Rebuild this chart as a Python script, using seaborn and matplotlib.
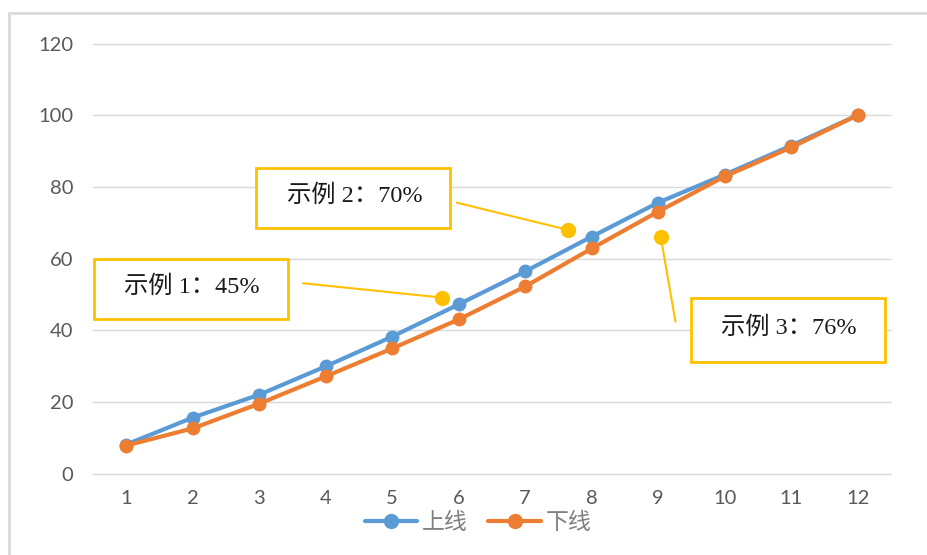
import numpy as np
import pandas as pd
import seaborn as sns
import matplotlib.pyplot as plt
from matplotlib.patches import Rectangle

# Data
x_values = [1, 2, 3, 4, 5, 6, 7, 8, 9, 10, 11, 12]
upper_line = [8.1, 15.6, 22.0, 29.9, 38.2, 47.2, 56.4, 66.1, 75.6, 83.4, 91.5, 100.0]
lower_line = [7.8, 12.6, 19.5, 27.1, 34.9, 43.0, 52.2, 62.8, 73.1, 82.9, 91.0, 100.0]
series_names = ['上线', '下线']

# Example call-outs: label text and the point each one marks
example_labels = ['示例 1：45%', '示例 2：70%', '示例 3：76%']
example_x = [5.75, 7.64, 9.04]
example_y = [49.1, 68.0, 65.9]

df = pd.DataFrame({
    'x': x_values * 2,
    'y': upper_line + lower_line,
    'series': [series_names[0]] * len(x_values) + [series_names[1]] * len(x_values),
})

sns.set_theme(style='white')
plt.rcParams['font.family'] = ['Lato', 'Noto Sans CJK SC', 'DejaVu Sans']

fig = plt.figure(figsize=(9.28, 5.55), dpi=100)
ax = fig.add_axes([0.1002, 0.1468, 0.8598, 0.7748])

sns.lineplot(data=df, x='x', y='y', hue='series', hue_order=series_names,
             palette=['#5B9BD5', '#ED7D31'], marker='o', markersize=10,
             markeredgewidth=0, linewidth=3, ax=ax)

ax.set_xlim(0.5, 12.5)
ax.set_ylim(0, 120)
ax.set_xticks(x_values)
ax.set_yticks(range(0, 121, 20))
ax.set_xlabel('')
ax.set_ylabel('')
ax.yaxis.grid(True, color='#D9D9D9', linewidth=1)
for gl in ax.get_ygridlines():
    gl.set_clip_on(False)
ax.set_axisbelow(True)
for s in ax.spines.values():
    s.set_visible(False)
ax.tick_params(axis='both', length=0, labelsize=14.5, labelcolor='#595959')
ax.tick_params(axis='y', pad=14)
ax.tick_params(axis='x', pad=12)

# call-out boxes (left, bottom, right, top in data units) and leader line starts
boxes = [(0.508, 43.1, 3.433, 59.9), (2.956, 68.5, 5.876, 85.3), (9.488, 31.2, 12.407, 49.1)]
leader_ends = [(3.66, 53.1), (5.97, 75.6), (9.26, 42.4)]
gold = '#FFC000'
for lab, px, py, (l, b, r, t), (lx, ly) in zip(example_labels, example_x, example_y, boxes, leader_ends):
    ax.plot([lx, px], [ly, py], color=gold, linewidth=1.5, zorder=4, clip_on=False)
    ax.plot(px, py, 'o', color=gold, markersize=11, markeredgewidth=0, zorder=5)
    ax.add_patch(Rectangle((l, b), r - l, t - b, facecolor='white', edgecolor=gold,
                           linewidth=2, zorder=6, clip_on=False))
    ax.text((l + r) / 2 + 0.02, (b + t) / 2 + 0.6, lab, ha='center', va='center', fontsize=17.5,
            color='#1A1A1A', family=['Liberation Serif', 'Noto Sans CJK SC'], zorder=7)

leg = ax.legend(loc='center', bbox_to_anchor=(0.515, 0.058), bbox_transform=fig.transFigure,
                ncol=2, frameon=False, fontsize=16.5, handlelength=2.3, handletextpad=0.2,
                columnspacing=0.9, markerscale=1.1)
for t in leg.get_texts():
    t.set_color('#808080')

# outer chart border
fig.patches.append(Rectangle((9.5 / 928, -0.1), 1.2, 1.1 - 12.5 / 555, transform=fig.transFigure,
                             facecolor='none', edgecolor='#D9D9D9', linewidth=2, zorder=0))

fig.savefig('out.png', dpi=100)
